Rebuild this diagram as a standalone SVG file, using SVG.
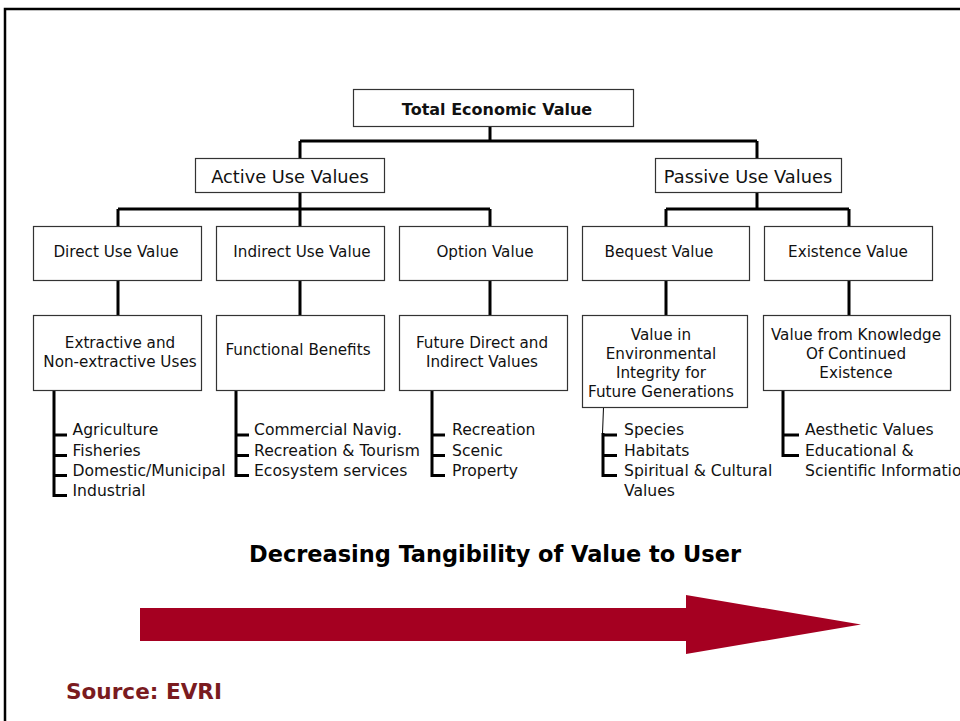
<svg xmlns="http://www.w3.org/2000/svg" width="960" height="721" viewBox="0 0 960 721">
  <style>
    .box { fill: #ffffff; stroke: #333333; stroke-width: 1.2; }
    .wire { fill: none; stroke: #000000; stroke-width: 3; }
    .thin { fill: none; stroke: #000000; stroke-width: 1; }
    .t { font-family: "DejaVu Sans", "Liberation Sans", sans-serif; fill: #111111; }
    .l2 { font-size: 17.8px; text-anchor: middle; }
    .l3 { font-size: 15.2px; text-anchor: middle; }
    .item { font-size: 15.6px; }
    .title { font-size: 16px; font-weight: bold; text-anchor: middle; }
  </style>

  <rect x="0" y="0" width="960" height="721" fill="#ffffff"/>
  <!-- slide frame -->
  <path d="M5,721 V9 H960" fill="none" stroke="#000000" stroke-width="2.5"/>

  <!-- tree connectors -->
  <g id="connectors">
    <path class="wire" d="M490,127 V141 M300,141 H757 M300,141 V158 M757,141 V158"/>
    <path class="wire" d="M300,192 V209 M118,209 H490 M118,209 V226 M300,209 V226 M490,209 V226"/>
    <path class="wire" d="M757,192 V209 M666,209 H849 M666,209 V226 M849,209 V226"/>
    <path class="wire" d="M118,281 V315 M300,281 V315 M490,281 V315 M666,281 V315 M849,281 V315"/>
    <!-- bullet brackets -->
    <path class="wire" d="M54,390 V497 M54,435 H67 M54,455.5 H67 M54,475.5 H67 M54,495.5 H67"/>
    <path class="wire" d="M236,390 V477 M236,435 H249 M236,455.5 H249 M236,475.5 H249"/>
    <path class="wire" d="M432,390 V477 M432,435 H445 M432,455.5 H445 M432,475.5 H445"/>
    <path class="thin" d="M603.5,407 L602.5,434"/>
    <path class="wire" d="M603,433 V477 M603,435 H617 M603,455.5 H617 M603,475.5 H617"/>
    <path class="wire" d="M783,390 V457 M783,435 H799 M783,455.5 H799"/>
  </g>

  <g id="total-economic-value">
    <rect class="box" x="353.5" y="89.5" width="280" height="37"/>
    <text class="t title" x="497" y="115">Total Economic Value</text>
  </g>

  <g id="active-use-values">
    <rect class="box" x="195.5" y="158.5" width="189" height="34"/>
    <text class="t l2" x="290" y="183">Active Use Values</text>
  </g>
  <g id="passive-use-values">
    <rect class="box" x="655.5" y="158.5" width="186" height="34"/>
    <text class="t l2" x="748" y="183">Passive Use Values</text>
  </g>

  <g id="direct-use-value">
    <rect class="box" x="33.5" y="226.5" width="168" height="54"/>
    <text class="t l3" x="116" y="257">Direct Use Value</text>
  </g>
  <g id="indirect-use-value">
    <rect class="box" x="216.5" y="226.5" width="168" height="54"/>
    <text class="t l3" x="302" y="257">Indirect Use Value</text>
  </g>
  <g id="option-value">
    <rect class="box" x="399.5" y="226.5" width="168" height="54"/>
    <text class="t l3" x="485" y="257">Option Value</text>
  </g>
  <g id="bequest-value">
    <rect class="box" x="582.5" y="226.5" width="167" height="54"/>
    <text class="t l3" x="659" y="257">Bequest Value</text>
  </g>
  <g id="existence-value">
    <rect class="box" x="764.5" y="226.5" width="168" height="54"/>
    <text class="t l3" x="848" y="257">Existence Value</text>
  </g>

  <g id="extractive-uses">
    <rect class="box" x="33.5" y="315.5" width="168" height="75"/>
    <text class="t l3" x="120" y="348">Extractive and</text>
    <text class="t l3" x="120" y="367">Non-extractive Uses</text>
    <text class="t item" x="72.5" y="435">Agriculture</text>
    <text class="t item" x="72.5" y="455.5">Fisheries</text>
    <text class="t item" x="72.5" y="475.5">Domestic/Municipal</text>
    <text class="t item" x="72.5" y="496">Industrial</text>
  </g>

  <g id="functional-benefits">
    <rect class="box" x="216.5" y="315.5" width="168" height="75"/>
    <text class="t l3" x="298" y="355">Functional Benefits</text>
    <text class="t item" x="254" y="435">Commercial Navig.</text>
    <text class="t item" x="254" y="455.5">Recreation &amp; Tourism</text>
    <text class="t item" x="254" y="475.5">Ecosystem services</text>
  </g>

  <g id="future-values">
    <rect class="box" x="399.5" y="315.5" width="168" height="75"/>
    <text class="t l3" x="482" y="348">Future Direct and</text>
    <text class="t l3" x="482" y="367">Indirect Values</text>
    <text class="t item" x="452" y="435">Recreation</text>
    <text class="t item" x="452" y="455.5">Scenic</text>
    <text class="t item" x="452" y="476">Property</text>
  </g>

  <g id="environmental-integrity">
    <rect class="box" x="582.5" y="315.5" width="165" height="92"/>
    <text class="t l3" x="661" y="340">Value in</text>
    <text class="t l3" x="661" y="359">Environmental</text>
    <text class="t l3" x="661" y="378">Integrity for</text>
    <text class="t l3" x="661" y="397">Future Generations</text>
    <text class="t item" x="624" y="435">Species</text>
    <text class="t item" x="624" y="455.5">Habitats</text>
    <text class="t item" x="624" y="476">Spiritual &amp; Cultural</text>
    <text class="t item" x="624" y="496">Values</text>
  </g>

  <g id="continued-existence">
    <rect class="box" x="763.5" y="315.5" width="187" height="75"/>
    <text class="t l3" x="856" y="340">Value from Knowledge</text>
    <text class="t l3" x="856" y="359">Of Continued</text>
    <text class="t l3" x="856" y="378">Existence</text>
    <text class="t item" x="805" y="435">Aesthetic Values</text>
    <text class="t item" x="805" y="455.5">Educational &amp;</text>
    <text class="t item" x="805" y="476">Scientific Information</text>
  </g>

  <!-- tangibility scale -->
  <g id="tangibility">
    <text x="495" y="562" font-family="'DejaVu Sans Condensed', 'DejaVu Sans', sans-serif" font-weight="bold" font-size="22.5" fill="#000000" text-anchor="middle" textLength="492" lengthAdjust="spacingAndGlyphs">Decreasing Tangibility of Value to User</text>
    <polygon points="140,608 686,608 686,595 861,624.5 686,654 686,641 140,641" fill="#a50021"/>
  </g>

  <g id="source">
    <text x="66" y="699" font-family="'DejaVu Sans Condensed', 'DejaVu Sans', sans-serif" font-weight="bold" font-size="21" fill="#7a1b1f" textLength="156" lengthAdjust="spacingAndGlyphs">Source: EVRI</text>
  </g>
</svg>
